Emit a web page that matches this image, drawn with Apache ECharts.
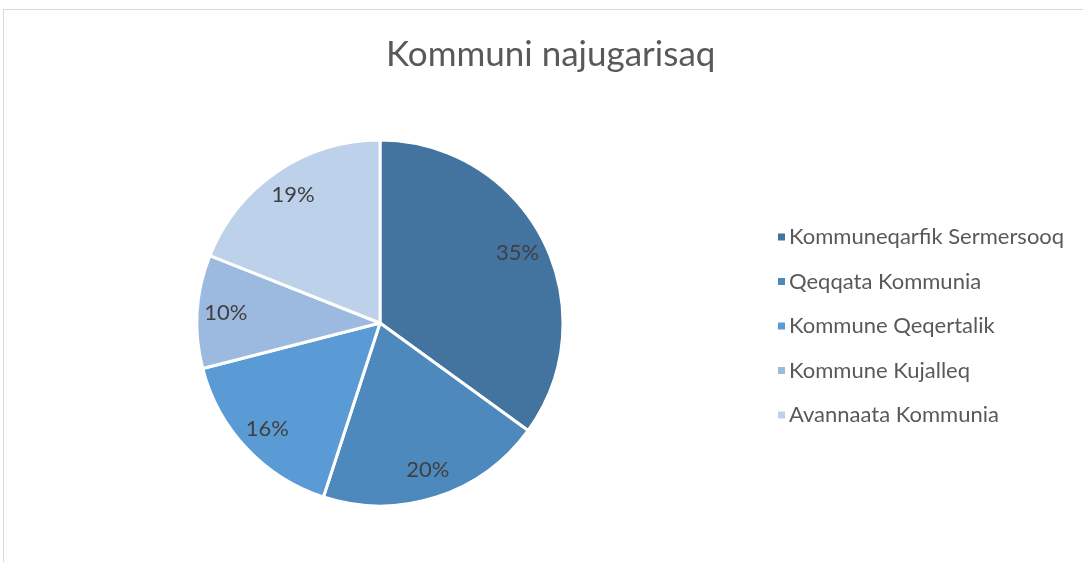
<!DOCTYPE html>
<html>
<head>
<meta charset="utf-8">
<script src="https://cdn.jsdelivr.net/npm/echarts@6/dist/echarts.min.js"></script>
<style>
  html, body { margin: 0; padding: 0; background: #fff; }
  #frame { position: absolute; left: 3px; top: 9px; width: 1100px; height: 600px; border: 1px solid #d9d9d9; box-sizing: border-box; }
  #chart { position: absolute; left: 0; top: 0; width: 1083px; height: 562px; }
</style>
</head>
<body>
<div id="frame"></div>
<div id="chart"></div>
<script>
const municipalities = [
  'Kommuneqarfik Sermersooq',
  'Qeqqata Kommunia',
  'Kommune Qeqertalik',
  'Kommune Kujalleq',
  'Avannaata Kommunia',
]
const shares = [35, 20, 16, 10, 19]
const sliceColors = ['#43739f', '#4e89bd', '#5b9bd5', '#9cbae0', '#bdd1ea']

const chart = echarts.init(document.getElementById('chart'))

const pieData = municipalities.map((name, i) => ({
  name,
  value: shares[i],
  itemStyle: { color: sliceColors[i] },
}))

chart.setOption({
  animation: false,
  title: {
    text: 'Kommuni najugarisaq',
    left: 381,
    top: 32,
    textStyle: { fontFamily: 'Lato', fontSize: 35, fontWeight: 'normal', color: '#595959' },
  },
  legend: {
    orient: 'vertical',
    left: 771,
    top: 220,
    icon: 'rect',
    itemWidth: 9,
    itemHeight: 9,
    itemGap: 20.5,
    data: municipalities,
    textStyle: { fontFamily: 'Lato', fontSize: 22, color: '#595959', lineHeight: 24, padding: [0, 0, 0, -2] },
  },
  series: [
    {
      type: 'pie',
      center: [380, 323],
      radius: [0, 183],
      startAngle: 90,
      clockwise: true,
      label: { show: false },
      labelLine: { show: false },
      itemStyle: { borderColor: '#fff', borderWidth: 3 },
      emphasis: { disabled: true },
      data: pieData,
    },
    {
      type: 'pie',
      center: [380, 323],
      radius: [120, 183],
      startAngle: 90,
      clockwise: true,
      silent: true,
      legendHoverLink: false,
      itemStyle: { color: 'transparent' },
      label: {
        show: true,
        position: 'inside',
        formatter: '{d}%',
        fontFamily: 'Lato',
        fontSize: 22,
        color: '#404040',
      },
      labelLine: { show: false },
      data: municipalities.map((name, i) => ({ name: name + ' ', value: shares[i] })),
    },
  ],
})
</script>
</body>
</html>
